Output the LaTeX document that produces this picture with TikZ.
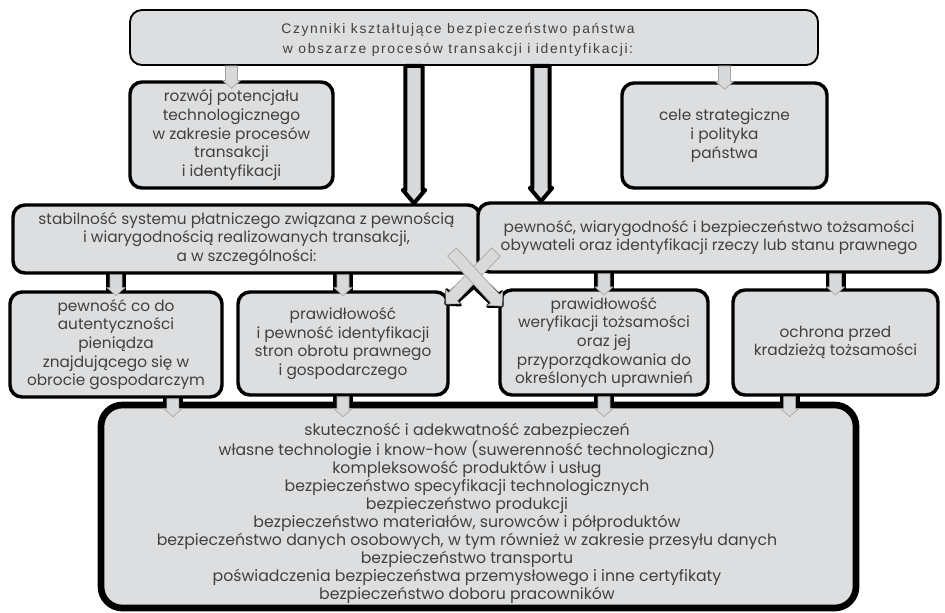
\documentclass[tikz,border=0pt]{standalone}
\usepackage{fontspec}
\newfontfamily\boxfont{Poppins}
\newfontfamily\headfont[LetterSpace=12]{Liberation Sans}
\usetikzlibrary{calc,backgrounds}

\definecolor{boxgray}{RGB}{221,222,223}
\definecolor{arrowgray}{RGB}{216,217,218}
\definecolor{arrowedge}{RGB}{165,165,165}
\definecolor{ink}{RGB}{64,64,64}

% block arrow: style, start, end, half shaft, half head, head length
\newcommand\blockarrow[6]{%
  \coordinate (bas) at (#2);
  \coordinate (bae) at (#3);
  \coordinate (bah) at ($(bae)!#6!(bas)$);
  \path[#1] ($(bas)!#4!90:(bae)$) -- ($(bah)!#4!90:(bae)$) -- ($(bah)!#5!90:(bae)$)
    -- (bae) -- ($(bah)!#5!-90:(bae)$) -- ($(bah)!#4!-90:(bae)$) -- ($(bas)!#4!-90:(bae)$) -- cycle;
}

\tikzset{
  sz/.style 2 args={minimum width=#1*0.75pt, minimum height=#2*0.75pt},
  box/.style={rectangle, rounded corners=9pt, draw=black, line width=2.6pt,
    fill=boxgray, text=ink, align=center, inner sep=0pt,
    font=\boxfont\fontsize{11.5}{14}\selectfont},
  headtext/.style={text=ink, align=center, inner sep=0pt,
    font=\headfont\fontsize{10.4}{15}\selectfont},
  listtext/.style={text=ink, align=center, inner sep=0pt,
    font=\boxfont\fontsize{11.8}{13.5}\selectfont},
  smallarrow/.style={fill=arrowgray, draw=arrowedge, line width=0.5pt},
  bigarrow/.style={fill=arrowgray, draw=black, line width=3pt, line join=round},
  crossback/.style={fill=black, draw=black, line width=2.5pt, line join=round},
  neck/.style={fill=black},
}

\begin{document}
\begin{tikzpicture}[x=0.75pt, y=-0.75pt]
\useasboundingbox (0,0) rectangle (945,612);

% boxes
\node[box, line width=1.4pt, sz={688}{55}] (top) at (474,37.5) {};
\node[headtext] (toptext) at (458,40) {Czynniki kształtujące bezpieczeństwo państwa\\w obszarze procesów transakcji i identyfikacji:};

\node[box, sz={203}{106}] (dev) at (231.5,135) {rozwój potencjału\\technologicznego\\w zakresie procesów\\transakcji\\i identyfikacji};
\node[box, sz={205}{105}] (goals) at (724.5,135.5) {cele strategiczne\\i polityka\\państwa};

\node[box, sz={467}{68}] (pay) at (246.5,239) {stabilność systemu płatniczego związana z pewnością\\i wiarygodnością realizowanych transakcji,\\a w szczególności:};
\node[box, sz={462}{69}] (ident) at (709,237.5) {pewność, wiarygodność i bezpieczeństwo tożsamości\\obywateli oraz identyfikacji rzeczy lub stanu prawnego};

\node[box, sz={212}{105}] (money) at (116,344.5) {pewność co do\\autentyczności\\pieniądza\\znajdującego się w\\obrocie gospodarczym};
\node[box, sz={210}{103}] (parties) at (343,343.5) {prawidłowość\\i pewność identyfikacji\\stron obrotu prawnego\\i gospodarczego};
\node[box, sz={208}{105}] (verify) at (604,342.5) {prawidłowość\\weryfikacji tożsamości\\oraz jej\\przyporządkowania do\\określonych uprawnień};
\node[box, sz={205}{105}] (theft) at (835.5,342.5) {ochrona przed\\kradzieżą tożsamości};

\node[box, line width=5pt, rounded corners=16pt, sz={755}{203}] (base) at (478.5,506.5) {};
\node[listtext] (list) at (467,513) {skuteczność i adekwatność zabezpieczeń\\
własne technologie i know-how (suwerenność technologiczna)\\
kompleksowość produktów i usług\\
bezpieczeństwo specyfikacji technologicznych\\
bezpieczeństwo produkcji\\
bezpieczeństwo materiałów, surowców i półproduktów\\
bezpieczeństwo danych osobowych, w tym również w zakresie przesyłu danych\\
bezpieczeństwo transportu\\
poświadczenia bezpieczeństwa przemysłowego i inne certyfikaty\\
bezpieczeństwo doboru pracowników};

% anchor points for the connectors
\coordinate (bigL) at (414,0);
\coordinate (bigR) at (541,0);
\coordinate (m2b) at ($(money.south west)!0.764!(money.south east)$);
\coordinate (p2b) at (parties.south);
\coordinate (v2b) at (verify.south);
\coordinate (t2b) at ($(theft.south west)!0.28!(theft.south east)$);
\coordinate (m2e) at ($(base.north -| m2b)+(0,15)$);
\coordinate (p2e) at ($(base.north -| p2b)+(0,15)$);
\coordinate (v2e) at ($(base.north -| v2b)+(0,15)$);
\coordinate (t2e) at ($(base.north -| t2b)+(0,15)$);
\coordinate (xa1) at (452,252);
\coordinate (xa2) at (502,306);
\coordinate (xb1) at (496,252);
\coordinate (xb2) at (446,304);
\coordinate (xmid) at (474,279);

% dark necks joining the box frames around the small arrows
\begin{pgfonlayer}{background}
  \fill[neck] ($(pay.south -| money.north)+(-10,-4)$) rectangle ($(money.north)+(10,4)$);
  \fill[neck] ($(pay.south -| parties.north)+(-10,-4)$) rectangle ($(parties.north)+(10,4)$);
  \fill[neck] ($(ident.south -| verify.north)+(-10,-4)$) rectangle ($(verify.north)+(10,4)$);
  \fill[neck] ($(ident.south -| theft.north)+(-10,-4)$) rectangle ($(theft.north)+(10,4)$);
  \fill[neck] ($(m2b)+(-10,-4)$) rectangle ($(base.north -| m2b)+(10,4)$);
  \fill[neck] ($(p2b)+(-10,-4)$) rectangle ($(base.north -| p2b)+(10,4)$);
  \fill[neck] ($(v2b)+(-10,-4)$) rectangle ($(base.north -| v2b)+(10,4)$);
  \fill[neck] ($(t2b)+(-10,-4)$) rectangle ($(base.north -| t2b)+(10,4)$);
\end{pgfonlayer}

% wide arrows from the heading
\blockarrow{bigarrow}{top.south -| bigL}{pay.north -| bigL}{6.4pt}{8.4pt}{10pt}
\blockarrow{bigarrow}{top.south -| bigR}{ident.north -| bigR}{6.4pt}{8.4pt}{10pt}

% small arrows
\blockarrow{smallarrow}{top.south -| dev.north}{[yshift=-6pt]dev.north}{4.5pt}{6.8pt}{6pt}
\blockarrow{smallarrow}{top.south -| goals.north}{[yshift=-6pt]goals.north}{4.5pt}{6.8pt}{6pt}
\blockarrow{smallarrow}{pay.south -| money.north}{[yshift=-4pt]money.north}{4.5pt}{6.8pt}{6pt}
\blockarrow{smallarrow}{pay.south -| parties.north}{[yshift=-4pt]parties.north}{4.5pt}{6.8pt}{6pt}
\blockarrow{smallarrow}{ident.south -| verify.north}{[yshift=-5pt]verify.north}{4.5pt}{6.8pt}{6pt}
\blockarrow{smallarrow}{ident.south -| theft.north}{[yshift=-5pt]theft.north}{4.5pt}{6.8pt}{6pt}
\blockarrow{smallarrow}{m2b}{m2e}{4.5pt}{6.8pt}{6pt}
\blockarrow{smallarrow}{p2b}{p2e}{4.5pt}{6.8pt}{6pt}
\blockarrow{smallarrow}{v2b}{v2e}{4.5pt}{6.8pt}{6pt}
\blockarrow{smallarrow}{t2b}{t2e}{4.5pt}{6.8pt}{6pt}

% crossed arrows between the two middle branches
\blockarrow{crossback}{xmid}{xa2}{4.5pt}{7.5pt}{7.5pt}
\blockarrow{crossback}{xmid}{xb2}{4.5pt}{7.5pt}{7.5pt}
\blockarrow{smallarrow}{xb1}{xb2}{4.5pt}{7.5pt}{7.5pt}
\blockarrow{smallarrow}{xa1}{xa2}{4.5pt}{7.5pt}{7.5pt}
\end{tikzpicture}
\end{document}
